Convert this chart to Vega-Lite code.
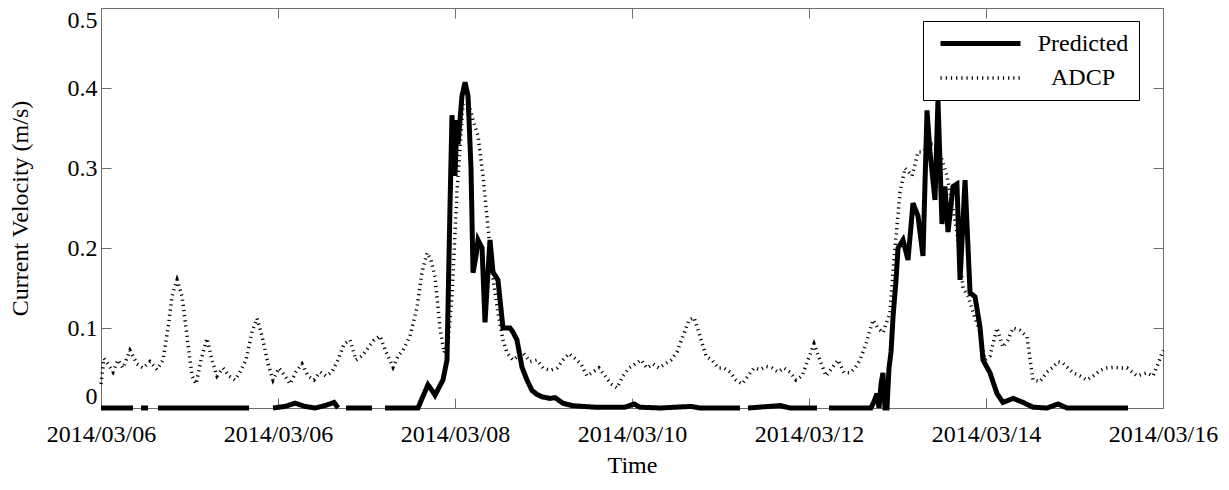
{
"$schema": "https://vega.github.io/schema/vega-lite/v6.json",
"width": 1062, "height": 400,
"autosize": {"type": "none"},
"padding": {"left": 101, "top": 8, "right": 66, "bottom": 82},
"background": "white",
"config": {
 "font": "Liberation Serif",
 "view": {"stroke": "#6e6e6e", "strokeWidth": 1},
 "axis": {"grid": false, "domain": false, "tickColor": "#6e6e6e", "labelFont": "Liberation Serif", "titleFont": "Liberation Serif", "labelFontSize": 24, "titleFontSize": 24, "titleFontWeight": "normal", "labelColor": "black", "titleColor": "black"}
},
"datasets": {
"adcp": [
{"day":0,"v":0.03},{"day":0.028,"v":0.062},{"day":0.066,"v":0.055},{"day":0.113,"v":0.045},{"day":0.16,"v":0.06},{"day":0.207,"v":0.05},{"day":0.273,"v":0.072},{"day":0.339,"v":0.055},{"day":0.395,"v":0.05},{"day":0.461,"v":0.058},{"day":0.527,"v":0.048},{"day":0.584,"v":0.06},{"day":0.631,"v":0.1},{"day":0.669,"v":0.14},{"day":0.716,"v":0.16},{"day":0.763,"v":0.14},{"day":0.81,"v":0.09},{"day":0.857,"v":0.04},{"day":0.895,"v":0.03},{"day":0.942,"v":0.06},{"day":0.998,"v":0.087},{"day":1.045,"v":0.06},{"day":1.092,"v":0.04},{"day":1.149,"v":0.05},{"day":1.205,"v":0.04},{"day":1.262,"v":0.035},{"day":1.309,"v":0.045},{"day":1.365,"v":0.06},{"day":1.422,"v":0.095},{"day":1.469,"v":0.112},{"day":1.516,"v":0.09},{"day":1.573,"v":0.055},{"day":1.62,"v":0.035},{"day":1.676,"v":0.05},{"day":1.733,"v":0.04},{"day":1.78,"v":0.03},{"day":1.836,"v":0.045},{"day":1.893,"v":0.055},{"day":1.949,"v":0.04},{"day":2.006,"v":0.035},{"day":2.062,"v":0.045},{"day":2.119,"v":0.04},{"day":2.175,"v":0.045},{"day":2.232,"v":0.06},{"day":2.288,"v":0.08},{"day":2.345,"v":0.085},{"day":2.401,"v":0.06},{"day":2.458,"v":0.065},{"day":2.514,"v":0.075},{"day":2.571,"v":0.085},{"day":2.627,"v":0.09},{"day":2.684,"v":0.07},{"day":2.75,"v":0.051},{"day":2.797,"v":0.065},{"day":2.844,"v":0.072},{"day":2.91,"v":0.09},{"day":2.976,"v":0.126},{"day":3.023,"v":0.17},{"day":3.07,"v":0.194},{"day":3.107,"v":0.185},{"day":3.145,"v":0.164},{"day":3.192,"v":0.1},{"day":3.23,"v":0.069},{"day":3.267,"v":0.08},{"day":3.305,"v":0.14},{"day":3.352,"v":0.27},{"day":3.409,"v":0.38},{"day":3.456,"v":0.385},{"day":3.503,"v":0.36},{"day":3.55,"v":0.34},{"day":3.597,"v":0.29},{"day":3.644,"v":0.226},{"day":3.682,"v":0.17},{"day":3.738,"v":0.119},{"day":3.785,"v":0.085},{"day":3.823,"v":0.069},{"day":3.879,"v":0.06},{"day":3.927,"v":0.065},{"day":3.974,"v":0.069},{"day":4.04,"v":0.058},{"day":4.105,"v":0.06},{"day":4.162,"v":0.05},{"day":4.228,"v":0.047},{"day":4.294,"v":0.05},{"day":4.35,"v":0.06},{"day":4.407,"v":0.068},{"day":4.463,"v":0.062},{"day":4.52,"v":0.055},{"day":4.576,"v":0.04},{"day":4.633,"v":0.045},{"day":4.689,"v":0.05},{"day":4.746,"v":0.04},{"day":4.802,"v":0.03},{"day":4.859,"v":0.025},{"day":4.915,"v":0.04},{"day":4.972,"v":0.05},{"day":5.028,"v":0.055},{"day":5.085,"v":0.06},{"day":5.141,"v":0.05},{"day":5.198,"v":0.055},{"day":5.254,"v":0.05},{"day":5.311,"v":0.055},{"day":5.367,"v":0.06},{"day":5.424,"v":0.07},{"day":5.48,"v":0.09},{"day":5.537,"v":0.11},{"day":5.584,"v":0.113},{"day":5.64,"v":0.09},{"day":5.697,"v":0.065},{"day":5.753,"v":0.06},{"day":5.81,"v":0.05},{"day":5.866,"v":0.05},{"day":5.923,"v":0.045},{"day":5.979,"v":0.035},{"day":6.036,"v":0.03},{"day":6.092,"v":0.04},{"day":6.149,"v":0.05},{"day":6.205,"v":0.048},{"day":6.262,"v":0.052},{"day":6.318,"v":0.05},{"day":6.375,"v":0.045},{"day":6.431,"v":0.05},{"day":6.488,"v":0.045},{"day":6.544,"v":0.035},{"day":6.601,"v":0.04},{"day":6.657,"v":0.06},{"day":6.714,"v":0.08},{"day":6.77,"v":0.06},{"day":6.827,"v":0.04},{"day":6.883,"v":0.05},{"day":6.94,"v":0.06},{"day":6.996,"v":0.044},{"day":7.053,"v":0.044},{"day":7.1,"v":0.05},{"day":7.147,"v":0.06},{"day":7.203,"v":0.08},{"day":7.269,"v":0.11},{"day":7.316,"v":0.1},{"day":7.363,"v":0.094},{"day":7.429,"v":0.119},{"day":7.476,"v":0.2},{"day":7.524,"v":0.27},{"day":7.571,"v":0.3},{"day":7.637,"v":0.29},{"day":7.693,"v":0.32},{"day":7.74,"v":0.32},{"day":7.806,"v":0.33},{"day":7.872,"v":0.33},{"day":7.919,"v":0.31},{"day":7.966,"v":0.29},{"day":7.994,"v":0.27},{"day":8.06,"v":0.22},{"day":8.117,"v":0.15},{"day":8.164,"v":0.14},{"day":8.211,"v":0.12},{"day":8.277,"v":0.094},{"day":8.324,"v":0.06},{"day":8.371,"v":0.065},{"day":8.437,"v":0.1},{"day":8.493,"v":0.076},{"day":8.54,"v":0.085},{"day":8.588,"v":0.1},{"day":8.653,"v":0.097},{"day":8.719,"v":0.089},{"day":8.776,"v":0.035},{"day":8.842,"v":0.033},{"day":8.908,"v":0.045},{"day":8.964,"v":0.051},{"day":9.011,"v":0.058},{"day":9.058,"v":0.056},{"day":9.105,"v":0.05},{"day":9.153,"v":0.044},{"day":9.218,"v":0.04},{"day":9.284,"v":0.035},{"day":9.341,"v":0.04},{"day":9.407,"v":0.047},{"day":9.473,"v":0.05},{"day":9.529,"v":0.051},{"day":9.595,"v":0.05},{"day":9.661,"v":0.05},{"day":9.708,"v":0.045},{"day":9.755,"v":0.04},{"day":9.802,"v":0.042},{"day":9.849,"v":0.044},{"day":9.906,"v":0.04},{"day":9.953,"v":0.055},{"day":10,"v":0.072}
],
"pred": [
{"day":0,"v":0},{"day":0.301,"v":0},{"day":0.339,"v":null},{"day":0.377,"v":0},{"day":0.443,"v":0},{"day":0.499,"v":null},{"day":0.537,"v":0},{"day":1.394,"v":0},{"day":1.516,"v":null},{"day":1.62,"v":0},{"day":1.733,"v":0.002},{"day":1.827,"v":0.006},{"day":1.921,"v":0.002},{"day":2.015,"v":0},{"day":2.109,"v":0.003},{"day":2.194,"v":0.007},{"day":2.232,"v":0},{"day":2.26,"v":null},{"day":2.307,"v":0},{"day":2.552,"v":0},{"day":2.608,"v":null},{"day":2.674,"v":0},{"day":2.985,"v":0},{"day":3.023,"v":0.012},{"day":3.079,"v":0.029},{"day":3.117,"v":0.022},{"day":3.145,"v":0.016},{"day":3.192,"v":0.028},{"day":3.22,"v":0.035},{"day":3.258,"v":0.06},{"day":3.286,"v":0.25},{"day":3.305,"v":0.366},{"day":3.333,"v":0.29},{"day":3.352,"v":0.36},{"day":3.362,"v":0.33},{"day":3.399,"v":0.39},{"day":3.428,"v":0.407},{"day":3.456,"v":0.39},{"day":3.484,"v":0.3},{"day":3.503,"v":0.169},{"day":3.531,"v":0.19},{"day":3.55,"v":0.21},{"day":3.588,"v":0.2},{"day":3.616,"v":0.107},{"day":3.644,"v":0.17},{"day":3.663,"v":0.21},{"day":3.691,"v":0.17},{"day":3.738,"v":0.16},{"day":3.785,"v":0.1},{"day":3.814,"v":0.1},{"day":3.851,"v":0.1},{"day":3.879,"v":0.095},{"day":3.917,"v":0.085},{"day":3.964,"v":0.051},{"day":4.011,"v":0.035},{"day":4.058,"v":0.022},{"day":4.105,"v":0.017},{"day":4.153,"v":0.014},{"day":4.228,"v":0.012},{"day":4.275,"v":0.013},{"day":4.35,"v":0.006},{"day":4.435,"v":0.003},{"day":4.539,"v":0.002},{"day":4.652,"v":0.001},{"day":4.793,"v":0.001},{"day":4.934,"v":0.001},{"day":5.019,"v":0.005},{"day":5.075,"v":0.001},{"day":5.264,"v":0},{"day":5.556,"v":0.002},{"day":5.64,"v":0},{"day":6.017,"v":0},{"day":6.055,"v":null},{"day":6.092,"v":0},{"day":6.394,"v":0.003},{"day":6.488,"v":0},{"day":6.742,"v":0},{"day":6.799,"v":null},{"day":6.855,"v":0},{"day":7.25,"v":0},{"day":7.279,"v":0.008},{"day":7.307,"v":0.018},{"day":7.326,"v":0},{"day":7.345,"v":0.03},{"day":7.363,"v":0.044},{"day":7.382,"v":0},{"day":7.401,"v":0},{"day":7.42,"v":0.05},{"day":7.439,"v":0.07},{"day":7.458,"v":0.114},{"day":7.486,"v":0.16},{"day":7.505,"v":0.2},{"day":7.552,"v":0.21},{"day":7.599,"v":0.185},{"day":7.646,"v":0.256},{"day":7.693,"v":0.24},{"day":7.74,"v":0.19},{"day":7.778,"v":0.372},{"day":7.806,"v":0.32},{"day":7.853,"v":0.26},{"day":7.881,"v":0.385},{"day":7.919,"v":0.23},{"day":7.947,"v":0.277},{"day":7.976,"v":0.22},{"day":8.023,"v":0.277},{"day":8.06,"v":0.28},{"day":8.089,"v":0.16},{"day":8.136,"v":0.285},{"day":8.183,"v":0.144},{"day":8.23,"v":0.139},{"day":8.277,"v":0.101},{"day":8.305,"v":0.06},{"day":8.371,"v":0.044},{"day":8.437,"v":0.018},{"day":8.493,"v":0.007},{"day":8.588,"v":0.012},{"day":8.682,"v":0.007},{"day":8.776,"v":0.001},{"day":8.908,"v":0},{"day":9.011,"v":0.005},{"day":9.096,"v":0},{"day":9.671,"v":0}
]
},
"layer": [
 {
  "data": {"name": "adcp"},
  "mark": {"type": "line", "color": "black"},
  "encoding": {
   "x": {"field": "day", "type": "quantitative", "scale": {"domain": [0, 10], "nice": false},
         "axis": {"orient": "bottom", "values": [0, 1.66667, 3.33333, 5, 6.66667, 8.33333, 10],
                  "labelExpr": "['2014/03/06','2014/03/06','2014/03/08','2014/03/10','2014/03/12','2014/03/14','2014/03/16'][round(datum.value*0.6)]",
                  "labelFlush": false, "labelOverlap": false,
                  "tickSize": -10, "labelPadding": 24, "title": "Time", "titlePadding": 7}},
   "y": {"field": "v", "type": "quantitative", "scale": {"domain": [0, 0.5], "nice": false},
         "axis": {"orient": "left", "values": [0, 0.1, 0.2, 0.3, 0.4, 0.5],
                  "labelExpr": "datum.value == 0 ? '0' : format(datum.value, '.1f')",
                  "labelFlush": true, "tickSize": -10, "labelPadding": 14,
                  "title": "Current Velocity (m/s)", "titlePadding": 35}},
   "strokeDash": {"datum": "ADCP", "type": "nominal",
                  "scale": {"domain": ["Predicted", "ADCP"], "range": [[1, 0], [1.2, 4]]},
                  "legend": {"title": null, "orient": "none", "legendX": 822, "legendY": 13,
                             "labelAlign": "center", "labelOffset": 125, "labelFontSize": 24,
                             "labelFont": "Liberation Serif", "labelColor": "black",
                             "symbolType": "M-0.5,0H7.5", "symbolSize": 400, "symbolStrokeColor": "black",
                             "strokeColor": "black", "fillColor": "white", "padding": 10, "rowPadding": 10}},
   "strokeWidth": {"datum": "ADCP", "type": "nominal",
                   "scale": {"domain": ["Predicted", "ADCP"], "range": [5, 3.5]}}
  }
 },
 {
  "data": {"name": "pred"},
  "mark": {"type": "line", "color": "black"},
  "encoding": {
   "x": {"field": "day", "type": "quantitative", "scale": {"domain": [0, 10], "nice": false},
         "axis": {"orient": "top", "values": [0, 1.66667, 3.33333, 5, 6.66667, 8.33333, 10], "labels": false, "tickSize": -10, "title": null}},
   "y": {"field": "v", "type": "quantitative", "scale": {"domain": [0, 0.5], "nice": false},
         "axis": {"orient": "right", "values": [0, 0.1, 0.2, 0.3, 0.4, 0.5], "labels": false, "tickSize": -10, "title": null}},
   "strokeDash": {"datum": "Predicted", "type": "nominal"},
   "strokeWidth": {"datum": "Predicted", "type": "nominal"}
  }
 }
],
"resolve": {"axis": {"x": "independent", "y": "independent"}}
}
